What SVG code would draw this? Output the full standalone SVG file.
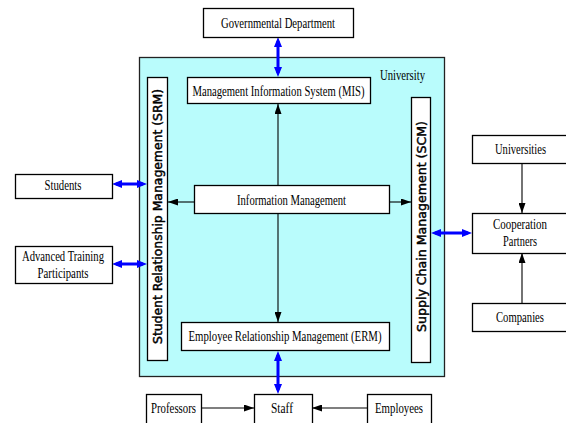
<svg xmlns="http://www.w3.org/2000/svg" width="566" height="423" viewBox="0 0 566 423">
<defs>
<marker id="ab" markerUnits="userSpaceOnUse" markerWidth="10" markerHeight="8" refX="6" refY="4" orient="auto-start-reverse"><path d="M0,0 L10,4 L0,8 z" fill="#0000ff"/></marker>
<marker id="ak" markerUnits="userSpaceOnUse" markerWidth="10" markerHeight="7" refX="10" refY="3.5" orient="auto-start-reverse"><path d="M0,0 L10,3.5 L0,7 z" fill="#000"/></marker>
</defs>
<style>
.box{fill:#fff;stroke:#000;stroke-width:1.3}
.t{font-family:"Liberation Serif","Times New Roman",serif;font-size:15px;fill:#000;text-anchor:middle}
.r{font-family:"DejaVu Sans",Verdana,sans-serif;font-size:12px;fill:#000;stroke:#000;stroke-width:0.45;text-anchor:middle}
.bl{stroke:#0000ff;stroke-width:3;fill:none;marker-start:url(#ab);marker-end:url(#ab)}
.k{stroke:#000;stroke-width:1.1;fill:none}
</style>
<rect width="566" height="423" fill="#fff"/>
<g id="university">
<rect x="139.5" y="57.5" width="305" height="319" fill="#b9fcfc" stroke="#222" stroke-width="1.3"/>
<text class="t" x="402.5" y="80" textLength="45" lengthAdjust="spacingAndGlyphs">University</text>
</g>
<g id="connectors">
<line class="k" x1="278" y1="104" x2="278" y2="322" marker-start="url(#ak)" marker-end="url(#ak)"/>
<line class="k" x1="194" y1="202" x2="168" y2="202" marker-end="url(#ak)"/>
<line class="k" x1="389" y1="202" x2="411" y2="202" marker-end="url(#ak)"/>
<line class="k" x1="522" y1="163" x2="522" y2="213" marker-end="url(#ak)"/>
<line class="k" x1="522" y1="303" x2="522" y2="253" marker-end="url(#ak)"/>
<line class="k" x1="201" y1="408" x2="254" y2="408" marker-end="url(#ak)"/>
<line class="k" x1="367" y1="408" x2="312" y2="408" marker-end="url(#ak)"/>
<line class="bl" x1="278" y1="41" x2="278" y2="73"/>
<line class="bl" x1="278" y1="355" x2="278" y2="390"/>
<line class="bl" x1="116" y1="184" x2="143" y2="184"/>
<line class="bl" x1="116" y1="264" x2="143" y2="264"/>
<line class="bl" x1="435" y1="233" x2="468" y2="233"/>
</g>
<g id="gov">
<rect class="box" x="203.5" y="8.5" width="150" height="29"/>
<text class="t" x="278" y="28" textLength="114" lengthAdjust="spacingAndGlyphs">Governmental Department</text>
</g>
<g id="mis">
<rect class="box" x="187.5" y="77.5" width="183" height="26"/>
<text class="t" x="278.5" y="96" textLength="172" lengthAdjust="spacingAndGlyphs">Management Information System (MIS)</text>
</g>
<g id="srm">
<rect class="box" x="147.5" y="77.5" width="20" height="283"/>
<text class="r" transform="translate(161.5,216.5) rotate(-90)" textLength="255" lengthAdjust="spacingAndGlyphs">Student Relationship Management (SRM)</text>
</g>
<g id="scm">
<rect class="box" x="411.5" y="97.5" width="19" height="265"/>
<text class="r" transform="translate(425.5,226.5) rotate(-90)" textLength="211" lengthAdjust="spacingAndGlyphs">Supply Chain Management (SCM)</text>
</g>
<g id="info">
<rect class="box" x="194.5" y="185.5" width="195" height="28"/>
<text class="t" x="291.5" y="205" textLength="109" lengthAdjust="spacingAndGlyphs">Information Management</text>
</g>
<g id="erm">
<rect class="box" x="181.5" y="322.5" width="208" height="28"/>
<text class="t" x="285" y="341" textLength="193" lengthAdjust="spacingAndGlyphs">Employee Relationship Management (ERM)</text>
</g>
<g id="students">
<rect class="box" x="15.5" y="174.5" width="97" height="24"/>
<text class="t" x="63" y="190" textLength="37" lengthAdjust="spacingAndGlyphs">Students</text>
</g>
<g id="advanced">
<rect class="box" x="15.5" y="246.5" width="97" height="37"/>
<text class="t" x="63" y="261" textLength="82" lengthAdjust="spacingAndGlyphs">Advanced Training</text>
<text class="t" x="63" y="278" textLength="51" lengthAdjust="spacingAndGlyphs">Participants</text>
</g>
<g id="universities">
<rect class="box" x="472.5" y="135.5" width="100" height="28"/>
<text class="t" x="520.5" y="154" textLength="51" lengthAdjust="spacingAndGlyphs">Universities</text>
</g>
<g id="coop">
<rect class="box" x="472.5" y="213.5" width="100" height="40"/>
<text class="t" x="520" y="229" textLength="54" lengthAdjust="spacingAndGlyphs">Cooperation</text>
<text class="t" x="520" y="246" textLength="34" lengthAdjust="spacingAndGlyphs">Partners</text>
</g>
<g id="companies">
<rect class="box" x="472.5" y="303.5" width="100" height="28"/>
<text class="t" x="520" y="322" textLength="48" lengthAdjust="spacingAndGlyphs">Companies</text>
</g>
<g id="professors">
<rect class="box" x="146.5" y="394.5" width="55" height="35"/>
<text class="t" x="173.5" y="413" textLength="45" lengthAdjust="spacingAndGlyphs">Professors</text>
</g>
<g id="staff">
<rect class="box" x="254.5" y="394.5" width="58" height="35"/>
<text class="t" x="282" y="413" textLength="22" lengthAdjust="spacingAndGlyphs">Staff</text>
</g>
<g id="employees">
<rect class="box" x="367.5" y="394.5" width="64" height="35"/>
<text class="t" x="399" y="413" textLength="48" lengthAdjust="spacingAndGlyphs">Employees</text>
</g>
</svg>
